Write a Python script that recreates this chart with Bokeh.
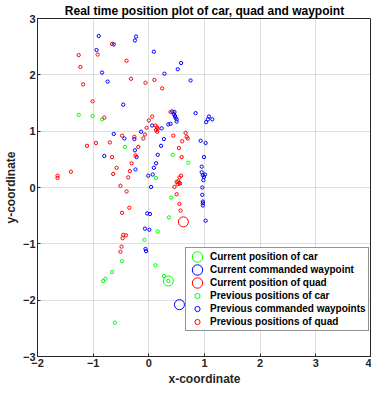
from bokeh.plotting import figure
from bokeh.models import Legend, LegendItem, FixedTicker
from bokeh.embed import file_html
from bokeh.resources import INLINE

# ---- data ----
x_ticks = [-2, -1, 0, 1, 2, 3, 4]
y_ticks = [-3, -2, -1, 0, 1, 2, 3]

car_now_x = [0.35]
car_now_y = [-1.66]
wp_now_x = [0.55]
wp_now_y = [-2.08]
quad_now_x = [0.62]
quad_now_y = [-0.61]

car_prev_x = [-1.26, -1.01, -0.84, -0.43, 0.43, 0.71, 0.13, 0.40, 0.36, 0.16,
              -0.08, -0.48, 0.12, -0.66, -0.78, -0.82, 0.27, 0.35, -0.61]
car_prev_y = [1.29, 1.27, 1.21, 0.72, 0.58, 0.44, 0.17, -0.18, -0.53, -0.78,
              -0.93, -1.31, -1.38, -1.50, -1.62, -1.66, -1.57, -1.66, -2.40]

wp_prev_x = [-0.90, -0.23, -0.25, -0.63, -0.94, 0.09, 0.58, 0.52, -0.84, 0.28,
             -0.74, 0.75, -0.46, 0.84,
             0.42, 0.46, 0.45, 0.47, 0.48, 0.50, 0.50, 0.39, 0.35,
             1.08, 1.14, 1.06, 1.03,
             0.06, 0.23, -0.14, -0.63, -0.44, -0.26, 0.27, 0.93, 1.02,
             0.22, -0.25, -0.80, 0.16, 0.99, 0.13, 0.95, 0.09, -0.22,
             -0.24, -0.01, 0.07,
             0.95, 0.97, 1.01, 0.99, 0.98,
             0.04, 0.96, 0.96, 0.97, 0.97, 0.97, -0.03, 0.02, 1.02,
             -0.07, 0.01, -0.06, -0.05]
wp_prev_y = [2.69, 2.68, 2.61, 2.54, 2.44, 2.41, 2.21, 2.10, 2.04, 2.02,
             1.88, 1.90, 1.47, 1.32,
             1.35, 1.34, 1.30, 1.27, 1.24, 1.21, 1.17, 1.13, 1.12,
             1.26, 1.21, 1.21, 1.16,
             1.10, 1.05, 0.99, 0.95, 0.87, 0.86, 0.86, 0.83, 0.79,
             0.74, 0.66, 0.56, 0.58, 0.54, 0.43, 0.37, 0.35, 0.54,
             0.32, 0.21, 0.23,
             0.27, 0.22, 0.23, 0.19, 0.13,
             0.01, 0.00, -0.13, -0.25, -0.28, -0.32, -0.46, -0.47, -0.59,
             -0.73, -0.75, -1.09, -1.13]

quad_prev_x = [-0.66, -1.26, -0.92, -1.23, -0.40, -1.18, -0.32, -0.06, 0.10, 0.24,
               -1.01, -0.80, 0.06, 0.00, 0.39, -0.04,
               0.12, 0.15, 0.16, 0.13, 0.15,
               -0.07, -0.48, -0.26, -0.10, 0.44, 0.66, 0.68, 0.70, 0.60,
               -1.11, -0.95, -0.70, -0.19, 0.54, -0.66, -0.24, 0.59, -0.31, -0.58,
               -1.64, -1.64, -1.40, -0.64, -0.34, -0.37, 0.55, 0.58,
               0.50, 0.53, 0.55, 0.52, 0.56, 0.46, -0.51, -0.40, 0.50,
               -0.35, -0.48, 0.55, 0.57, -0.46, -0.41, -0.47, -0.49, -0.51]
quad_prev_y = [2.55, 2.35, 2.36, 2.14, 2.25, 1.83, 1.93, 1.86, 1.91, 1.76,
               1.53, 1.24, 1.26, 1.19, 1.34, 1.06,
               1.10, 1.07, 1.04, 1.02, 0.99,
               0.94, 0.92, 0.90, 0.87, 0.92, 0.97, 0.90, 0.87, 0.82,
               0.74, 0.79, 0.80, 0.72, 0.70, 0.54, 0.57, 0.54, 0.43, 0.35,
               0.21, 0.17, 0.28, 0.24, 0.29, 0.18, 0.18, 0.21,
               0.10, 0.11, 0.08, 0.06, 0.07, 0.01, 0.03, -0.07, -0.12,
               -0.36, -0.45, -0.29, -0.41, -0.84, -0.85, -0.90, -1.05, -1.14]

GREEN = "#00ff00"
BLUE = "#0000ff"
RED = "#ff0000"
AX = "#262626"
FONT = "Liberation Sans"

p = figure(frame_width=334, frame_height=338, x_range=(-2, 4), y_range=(-3, 3),
           output_backend="svg", toolbar_location=None,
           title="Real time position plot of car, quad and waypoint",
           min_border_left=0, min_border_right=0, min_border_top=0, min_border_bottom=0)

p.title.align = "center"
p.title.text_font = FONT
p.title.text_font_size = "12px"
p.title.text_font_style = "bold"
p.title.text_color = "#000000"
p.title.offset = 0
p.title.standoff = 2

p.xaxis.ticker = FixedTicker(ticks=x_ticks)
p.yaxis.ticker = FixedTicker(ticks=y_ticks)
for ax in (p.xaxis, p.yaxis):
    ax.major_label_text_font = FONT
    ax.major_label_text_font_size = "11px"
    ax.major_label_text_font_style = "bold"
    ax.major_label_text_color = AX
    ax.axis_label_text_font = FONT
    ax.axis_label_text_font_size = "12px"
    ax.axis_label_text_font_style = "bold"
    ax.axis_label_text_color = AX
    ax.axis_line_color = AX
    ax.major_tick_line_color = AX
    ax.major_tick_in = 3
    ax.major_tick_out = 0
    ax.minor_tick_line_color = None
    ax.major_label_standoff = 2
    ax.axis_label_standoff = 2
p.xaxis.axis_label = "x-coordinate"
p.yaxis.axis_label = "y-coordinate"

p.grid.grid_line_color = AX
p.grid.grid_line_alpha = 0.15
p.outline_line_color = AX
p.outline_line_alpha = 1
p.outline_line_width = 1

r_car_prev = p.scatter(car_prev_x, car_prev_y, marker="circle", size=3.3, fill_color=None,
                       line_color=GREEN, line_width=1)
r_wp_prev = p.scatter(wp_prev_x, wp_prev_y, marker="circle", size=3.3, fill_color=None,
                      line_color=BLUE, line_width=1)
r_quad_prev = p.scatter(quad_prev_x, quad_prev_y, marker="circle", size=3.3, fill_color=None,
                        line_color=RED, line_width=1)
r_car_now = p.ellipse(car_now_x, car_now_y, width=10, height=10, width_units="screen",
                      height_units="screen", fill_color=None, line_color=GREEN, line_width=1)
r_wp_now = p.ellipse(wp_now_x, wp_now_y, width=10, height=10, width_units="screen",
                     height_units="screen", fill_color=None, line_color=BLUE, line_width=1)
r_quad_now = p.ellipse(quad_now_x, quad_now_y, width=10, height=10, width_units="screen",
                       height_units="screen", fill_color=None, line_color=RED, line_width=1)

legend = Legend(items=[
    LegendItem(label="Current position of car", renderers=[r_car_now]),
    LegendItem(label="Current commanded waypoint", renderers=[r_wp_now]),
    LegendItem(label="Current position of quad", renderers=[r_quad_now]),
    LegendItem(label="Previous positions of car", renderers=[r_car_prev]),
    LegendItem(label="Previous commanded waypoints", renderers=[r_wp_prev]),
    LegendItem(label="Previous positions of quad", renderers=[r_quad_prev]),
], location=(148, 25))
legend.label_text_font = FONT
legend.label_text_font_size = "10px"
legend.label_text_font_style = "bold"
legend.label_text_color = "#000000"
legend.label_height = 13
legend.glyph_height = 13
legend.glyph_width = 18
legend.label_standoff = 4
legend.spacing = 0
legend.padding = 2
legend.margin = 0
legend.border_line_color = AX
legend.border_line_width = 1
legend.background_fill_alpha = 1
p.add_layout(legend, "center")

open("out.html", "w").write(file_html(p, INLINE))
